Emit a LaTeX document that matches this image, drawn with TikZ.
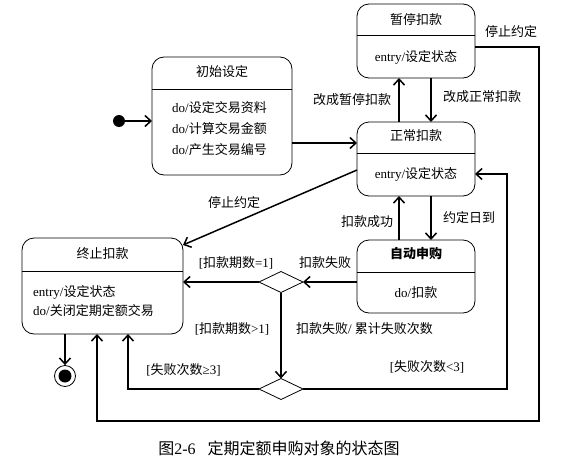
\documentclass[tikz,border=0pt]{standalone}
\usepackage{fontspec}
\setmainfont{Liberation Serif}
\newfontfamily\cjk{Noto Sans CJK SC}
\usetikzlibrary{arrows.meta,shapes.geometric}
\begin{document}
\begin{tikzpicture}[x=1pt,y=-1pt,
  state/.style={draw, line width=0.8pt, rounded corners=12pt, inner sep=0pt, outer sep=0pt},
  divider/.style={line width=0.8pt},
  lbl/.style={inner sep=0pt, font=\fontsize{13}{15}\selectfont},
  arr/.style={line width=1.5pt, -{Straight Barb[length=6pt,width=11pt,line width=1.5pt]}},
  looparr/.style={line width=1.1pt, -{Straight Barb[length=6pt,width=11pt,line width=1.5pt]}},
  choice/.style={draw, diamond, line width=0.8pt, inner sep=0pt, outer sep=0pt, minimum width=44pt, minimum height=21pt}]
\useasboundingbox (0,0) rectangle (573,463);

% states
\node[state, minimum width=118pt, minimum height=74pt] (pause) at (416,41) {};
\draw[divider] (pause.west |- 0,35) -- (pause.east |- 0,35);
\node[lbl] (pauseT) at (416,20) {\cjk 暂停扣款};
\node[lbl] (pauseE) at (416,57) {entry/{\cjk 设定状态}};

\node[state, minimum width=140pt, minimum height=118pt] (init) at (222,116) {};
\draw[divider] (init.west |- 0,89) -- (init.east |- 0,89);
\node[lbl] (initT) at (222,72) {\cjk 初始设定};
\node[lbl, anchor=west] (i1) at (172,108) {do/{\cjk 设定交易资料}};
\node[lbl, anchor=west] (i2) at (172,129) {do/{\cjk 计算交易金额}};
\node[lbl, anchor=west] (i3) at (172,150) {do/{\cjk 产生交易编号}};

\node[state, minimum width=118pt, minimum height=74pt] (normal) at (416,159) {};
\draw[divider] (normal.west |- 0,153) -- (normal.east |- 0,153);
\node[lbl] (normalT) at (416,136) {\cjk 正常扣款};
\node[lbl] (normalE) at (416,174) {entry/{\cjk 设定状态}};

\node[state, minimum width=118pt, minimum height=73pt] (auto) at (416,276.5) {};
\draw[divider] (auto.west |- 0,272) -- (auto.east |- 0,272);
\node[lbl] (autoT) at (416,254) {\cjk\bfseries 自动申购};
\node[lbl] (autoD) at (416,293) {do/{\cjk 扣款}};

\node[state, minimum width=161pt, minimum height=96pt] (term) at (102.5,286) {};
\draw[divider] (term.west |- 0,271) -- (term.east |- 0,271);
\node[lbl] (termT) at (102.5,254) {\cjk 终止扣款};
\node[lbl, anchor=west] (t1) at (33,292) {entry/{\cjk 设定状态}};
\node[lbl, anchor=west] (t2) at (33,311) {do/{\cjk 关闭定期定额交易}};

% pseudo states
\node[circle, fill, minimum size=12pt, inner sep=0pt] (start) at (119,121) {};
\node[circle, draw, line width=0.8pt, minimum size=21pt, inner sep=0pt] (end) at (65,376) {};
\node[circle, fill, minimum size=13pt, inner sep=0pt] (endin) at (end) {};
\node[choice] (d1) at (281,282) {};
\node[choice] (d2) at (281,389) {};

% transitions
\draw[arr] (start) -- (init.west |- start);
\draw[arr] (init.east |- 0,143) -- (normal.west |- 0,143);
\draw[arr] (normal.north -| 399,0) -- (pause.south -| 399,0);
\draw[arr] (pause.south -| 431,0) -- (normal.north -| 431,0);
\draw[arr] (normal.south -| 431,0) -- (auto.north -| 431,0);
\draw[arr] (auto.north -| 399,0) -- (normal.south -| 399,0);
\draw[arr] (normal.west |- 0,170) -- (term.east |- 0,245);
\draw[arr] (auto.west |- d1) -- (d1.east);
\draw[arr] (d1.west) -- (term.east |- d1);
\draw[arr] (d1.south) -- (d2.north);
\draw[looparr] (d2.west) -| (term.south -| 128,0);
\draw[looparr] (d2.east) -| (507,174) -- (normal.east |- 0,174);
\draw[looparr] (pause.east |- 0,47) -| (539,421) -| (term.south -| 97,0);
\draw[arr] (term.south -| end) -- (end.north);

% labels
\node[lbl] (l1) at (352,100) {\cjk 改成暂停扣款};
\node[lbl] (l2) at (482,97) {\cjk 改成正常扣款};
\node[lbl] (l3) at (511,32) {\cjk 停止约定};
\node[lbl] (l4) at (234,203) {\cjk 停止约定};
\node[lbl] (l5) at (367,222) {\cjk 扣款成功};
\node[lbl] (l6) at (469,218) {\cjk 约定日到};
\node[lbl] (l7) at (325,263) {\cjk 扣款失败};
\node[lbl] (l8) at (236,263) {[{\cjk 扣款期数}=1]};
\node[lbl] (l9) at (232,329) {[{\cjk 扣款期数}>1]};
\node[lbl] (l10) at (364.5,329) {{\cjk 扣款失败}/ {\cjk 累计失败次数}};
\node[lbl] (l11) at (183.5,370) {[{\cjk 失败次数}≥3]};
\node[lbl] (l12) at (427,367) {[{\cjk 失败次数}<3]};
\node[inner sep=0pt, font=\fontsize{16}{18}\selectfont] (cap) at (279,448) {{\cjk 图}2-6\hspace{12pt}{\cjk 定期定额申购对象的状态图}};
\end{tikzpicture}
\end{document}
